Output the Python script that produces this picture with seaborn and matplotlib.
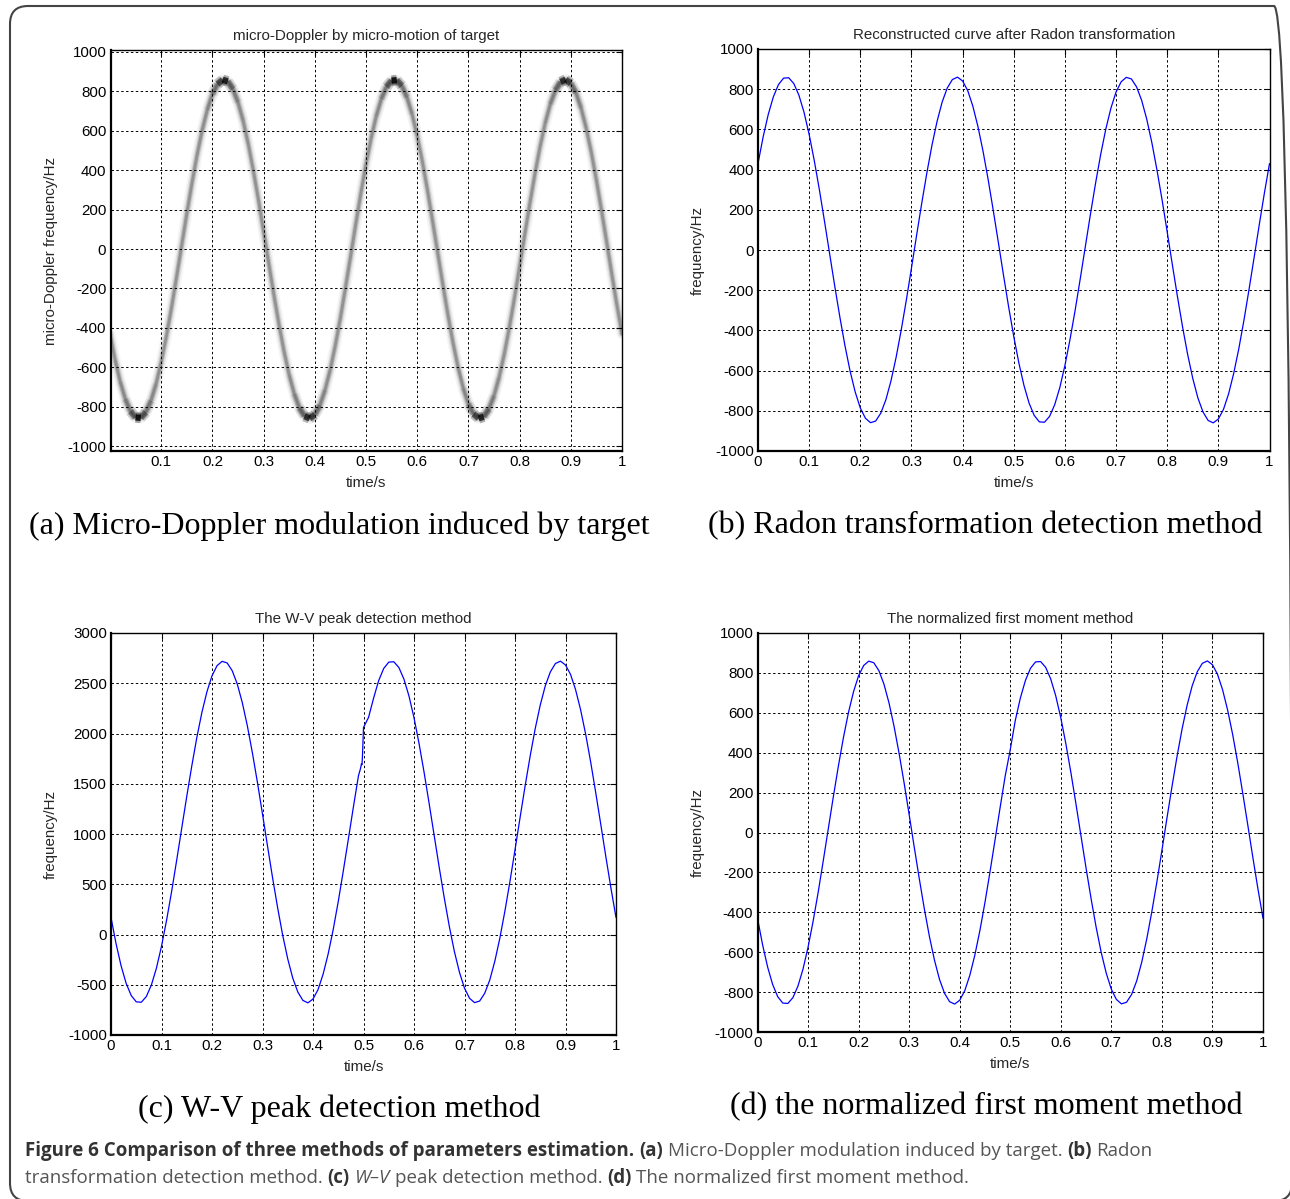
import numpy as np
import pandas as pd
import matplotlib
matplotlib.use("Agg")
import matplotlib.pyplot as plt
import seaborn as sns
from matplotlib.collections import LineCollection
from matplotlib.patches import FancyBboxPatch

# sample times (every 0.01 s)
time_s = np.round(np.arange(0, 101) * 0.01, 2)

# (a) ridge of the micro-Doppler spectrogram, Hz
micro_doppler_hz = [-430, -562, -674, -762, -823, -855, -857, -828, -770, -685,
                    -575, -445, -300, -143, 18, 179, 333, 476, 602, 706,
                    786, 837, 859, 851, 812, 745, 651, 534, 398, 249,
                    90, -72, -231, -382, -520, -639, -736, -806, -848, -860,
                    -841, -793, -716, -614, -491, -350, -196, -36, 126, 283,
                    430, 562, 674, 762, 823, 855, 857, 828, 770, 685,
                    575, 445, 300, 143, -18, -179, -333, -476, -602, -706,
                    -786, -837, -859, -851, -812, -745, -651, -534, -398, -249,
                    -90, 72, 231, 382, 520, 639, 736, 806, 848, 860,
                    841, 793, 716, 614, 491, 350, 196, 36, -126, -283,
                    -430]

# (b) curve reconstructed after Radon transformation, Hz
radon_hz = [430, 562, 674, 762, 823, 855, 857, 828, 770, 685,
            575, 445, 300, 143, -18, -179, -333, -476, -602, -706,
            -786, -837, -859, -851, -812, -745, -651, -534, -398, -249,
            -90, 72, 231, 382, 520, 639, 736, 806, 848, 860,
            841, 793, 716, 614, 491, 350, 196, 36, -126, -283,
            -430, -562, -674, -762, -823, -855, -857, -828, -770, -685,
            -575, -445, -300, -143, 18, 179, 333, 476, 602, 706,
            786, 837, 859, 851, 812, 745, 651, 534, 398, 249,
            90, -72, -231, -382, -520, -639, -736, -806, -848, -860,
            -841, -793, -716, -614, -491, -350, -196, -36, 126, 283,
            430]

# (c) W-V peak detection, Hz
wv_hz = [170, -91, -312, -486, -607, -670, -674, -617, -502, -334,
         -117, 140, 427, 737, 1056, 1374, 1678, 1961, 2210, 2416,
         2574, 2675, 2718, 2702, 2625, 2493, 2307, 2076, 1807, 1512,
         1198, 878, 563, 265, -8, -243, -435, -573, -656, -680,
         -642, -548, -395, -194, 49, 328, 633, 949, 1269, 1579,
         2060, 2160, 2352, 2526, 2647, 2710, 2714, 2657, 2542, 2374,
         2157, 1900, 1613, 1303, 984, 666, 362, 79, -170, -376,
         -534, -635, -678, -662, -585, -453, -267, -36, 233, 528,
         842, 1162, 1477, 1775, 2048, 2283, 2475, 2613, 2696, 2720,
         2682, 2588, 2435, 2234, 1991, 1712, 1407, 1091, 771, 461,
         170]
# jagged bit of the W-V estimate just before t = 0.5
wv_glitch_time = [0.494, 0.496, 0.497, 0.498, 0.505]
wv_glitch_hz = [1650, 1700, 1690, 1780, 2110]

# (d) normalized first moment, Hz
moment_hz = [-430, -562, -674, -762, -823, -855, -857, -828, -770, -685,
             -575, -445, -300, -143, 18, 179, 333, 476, 602, 706,
             786, 837, 859, 851, 812, 745, 651, 534, 398, 249,
             90, -72, -231, -382, -520, -639, -736, -806, -848, -860,
             -841, -793, -716, -614, -491, -350, -196, -36, 126, 283,
             415, 562, 674, 762, 823, 855, 857, 828, 770, 685,
             575, 445, 300, 143, -18, -179, -333, -476, -602, -706,
             -786, -837, -859, -851, -812, -745, -651, -534, -398, -249,
             -90, 72, 231, 382, 520, 639, 736, 806, 848, 860,
             841, 793, 716, 614, 491, 350, 196, 36, -126, -283,
             -430]

titles = ["micro-Doppler by micro-motion of target",
          "Reconstructed curve after Radon transformation",
          "The W-V peak detection method",
          "The normalized first moment method"]
ylabels = ["micro-Doppler frequency/Hz", "frequency/Hz", "frequency/Hz", "frequency/Hz"]
captions = ["(a) Micro-Doppler modulation induced by target",
            "(b) Radon transformation detection method",
            "(c) W-V peak detection method",
            "(d) the normalized first moment method"]

sns.set_style("white")
plt.rcParams["font.family"] = ["Liberation Sans", "DejaVu Sans"]
plt.rcParams["axes.unicode_minus"] = False

W, H = 1290, 1199
fig = plt.figure(figsize=(W / 100, H / 100), dpi=100)


def px_axes(left, top, right, bottom):
    return fig.add_axes([left / W, 1 - bottom / H, (right - left) / W, (bottom - top) / H])


def matlab_look(ax, title, ylabel):
    ax.set_title(title, fontsize=10.9, pad=7)
    ax.set_xlabel("time/s", fontsize=10.9, labelpad=5)
    ax.set_ylabel(ylabel, fontsize=10.9, labelpad=7)
    ax.grid(True, color="black", linestyle=(0, (2.5, 2.5)), linewidth=0.7)
    ax.tick_params(direction="in", length=4, width=0.8, labelsize=10.9, pad=3,
                   top=True, right=True, colors="black")
    for side in ["left", "bottom"]:
        ax.spines[side].set_linewidth(1.6)
    for side in ["top", "right"]:
        ax.spines[side].set_linewidth(1.0)
    for s in ax.spines.values():
        s.set_color("black")
        s.set_visible(True)


# (a) spectrogram-like grey ridge
ax_a = px_axes(110.5, 50, 622, 451)
df_a = pd.DataFrame({"time": time_s, "freq": micro_doppler_hz})
for lw, a in [(8, 0.04), (5.5, 0.08), (3.5, 0.16), (2.0, 0.22)]:
    sns.lineplot(data=df_a, x="time", y="freq", ax=ax_a, color="black", linewidth=lw,
                 alpha=a, estimator=None, sort=False, legend=False)
pts = df_a[["time", "freq"]].to_numpy(dtype=float)
segs = np.stack([pts[:-1], pts[1:]], axis=1)
slope = np.abs(np.diff(pts[:, 1]))
weight = (1 - slope / slope.max()) ** 4
for lw, a in [(7.5, 0.35), (4.5, 0.85)]:
    dark = np.zeros((len(segs), 4))
    dark[:, 3] = np.clip(weight * a, 0, 1)
    ax_a.add_collection(LineCollection(segs, colors=dark, linewidths=lw, capstyle="butt",
                                       joinstyle="round"))
ax_a.set_xlim(0.001, 1)
ax_a.set_ylim(-1025, 1010)
ax_a.set_xticks(np.round(np.arange(1, 11) * 0.1, 1))
ax_a.set_xticklabels(["0.1", "0.2", "0.3", "0.4", "0.5", "0.6", "0.7", "0.8", "0.9", "1"])
ax_a.set_yticks(range(-1000, 1001, 200))
matlab_look(ax_a, titles[0], ylabels[0])
ax_a.set_axisbelow(False)

# (b) Radon
ax_b = px_axes(758, 49, 1269.5, 451)
sns.lineplot(x=time_s, y=radon_hz, ax=ax_b, color="#0000ff", linewidth=0.9,
             estimator=None, sort=False, legend=False)
ax_b.set_xlim(0, 1)
ax_b.set_ylim(-1000, 1000)
ax_b.set_yticks(range(-1000, 1001, 200))

# (c) W-V
ax_c = px_axes(111, 633, 616, 1035)
df_c = pd.concat([pd.DataFrame({"time": time_s, "freq": wv_hz}),
                  pd.DataFrame({"time": wv_glitch_time, "freq": wv_glitch_hz})]).sort_values("time")
sns.lineplot(data=df_c, x="time", y="freq", ax=ax_c, color="#0000ff", linewidth=0.9,
             estimator=None, sort=False, legend=False)
ax_c.set_xlim(0, 1)
ax_c.set_ylim(-1000, 3000)
ax_c.set_yticks(range(-1000, 3001, 500))

# (d) first moment
ax_d = px_axes(757.5, 633, 1263, 1032)
sns.lineplot(x=time_s, y=moment_hz, ax=ax_d, color="#0000ff", linewidth=0.9,
             estimator=None, sort=False, legend=False)
ax_d.set_xlim(0, 1)
ax_d.set_ylim(-1000, 1000)
ax_d.set_yticks(range(-1000, 1001, 200))

for ax, ttl, yl in zip([ax_b, ax_c, ax_d], titles[1:], ylabels[1:]):
    ax.set_xticks(np.round(np.arange(0, 11) * 0.1, 1))
    ax.set_xticklabels(["0", "0.1", "0.2", "0.3", "0.4", "0.5", "0.6", "0.7", "0.8", "0.9", "1"])
    matlab_look(ax, ttl, yl)

# sub-figure captions
for cap, (cx, cy) in zip(captions, [(339, 526), (985, 526), (339, 1109), (986, 1107)]):
    fig.text(cx / W, 1 - cy / H, cap, ha="center", va="center", fontsize=23,
             family=["Liberation Serif", "DejaVu Serif"], color="black")

# figure caption, mixed bold / regular
renderer = fig.canvas.get_renderer()
cap_size = 13.5
bold_col, reg_col = "#333333", "#555555"


def text_width(s, **kw):
    t = fig.text(0, 0, s, fontsize=cap_size, family="Open Sans", **kw)
    w = t.get_window_extent(renderer).width
    t.remove()
    return w


space_w = text_width("x x") - text_width("xx")

lines = [
    [("Figure 6 Comparison of three methods of parameters estimation.", "bold", "normal"),
     ("(a)", "bold", "normal"),
     ("Micro-Doppler modulation induced by target.", "normal", "normal"),
     ("(b)", "bold", "normal"),
     ("Radon", "normal", "normal")],
    [("transformation detection method.", "normal", "normal"),
     ("(c)", "bold", "normal"),
     ("W\u2013V", "normal", "italic"),
     ("peak detection method.", "normal", "normal"),
     ("(d)", "bold", "normal"),
     ("The normalized first moment method.", "normal", "normal")],
]
for parts, y in zip(lines, [1156, 1183]):
    x = 25
    for s, wt, st in parts:
        t = fig.text(x / W, 1 - y / H, s, fontsize=cap_size, family="Open Sans", weight=wt,
                     style=st, color=bold_col if wt == "bold" else reg_col, va="baseline")
        x += t.get_window_extent(renderer).width + space_w

# rounded frame around the whole figure (right and bottom edges run off the image)
fl, ft, fr, fb = 10, 6, 1292, 1201
frame = FancyBboxPatch((fl / W, 1 - fb / H), (fr - fl) / W, (fb - ft) / H,
                       boxstyle=f"round,pad=0,rounding_size={18 / W}", mutation_aspect=W / H,
                       transform=fig.transFigure, fill=False, edgecolor="#444444", linewidth=1.5)
fig.add_artist(frame)

fig.savefig("out.png", dpi=100)
